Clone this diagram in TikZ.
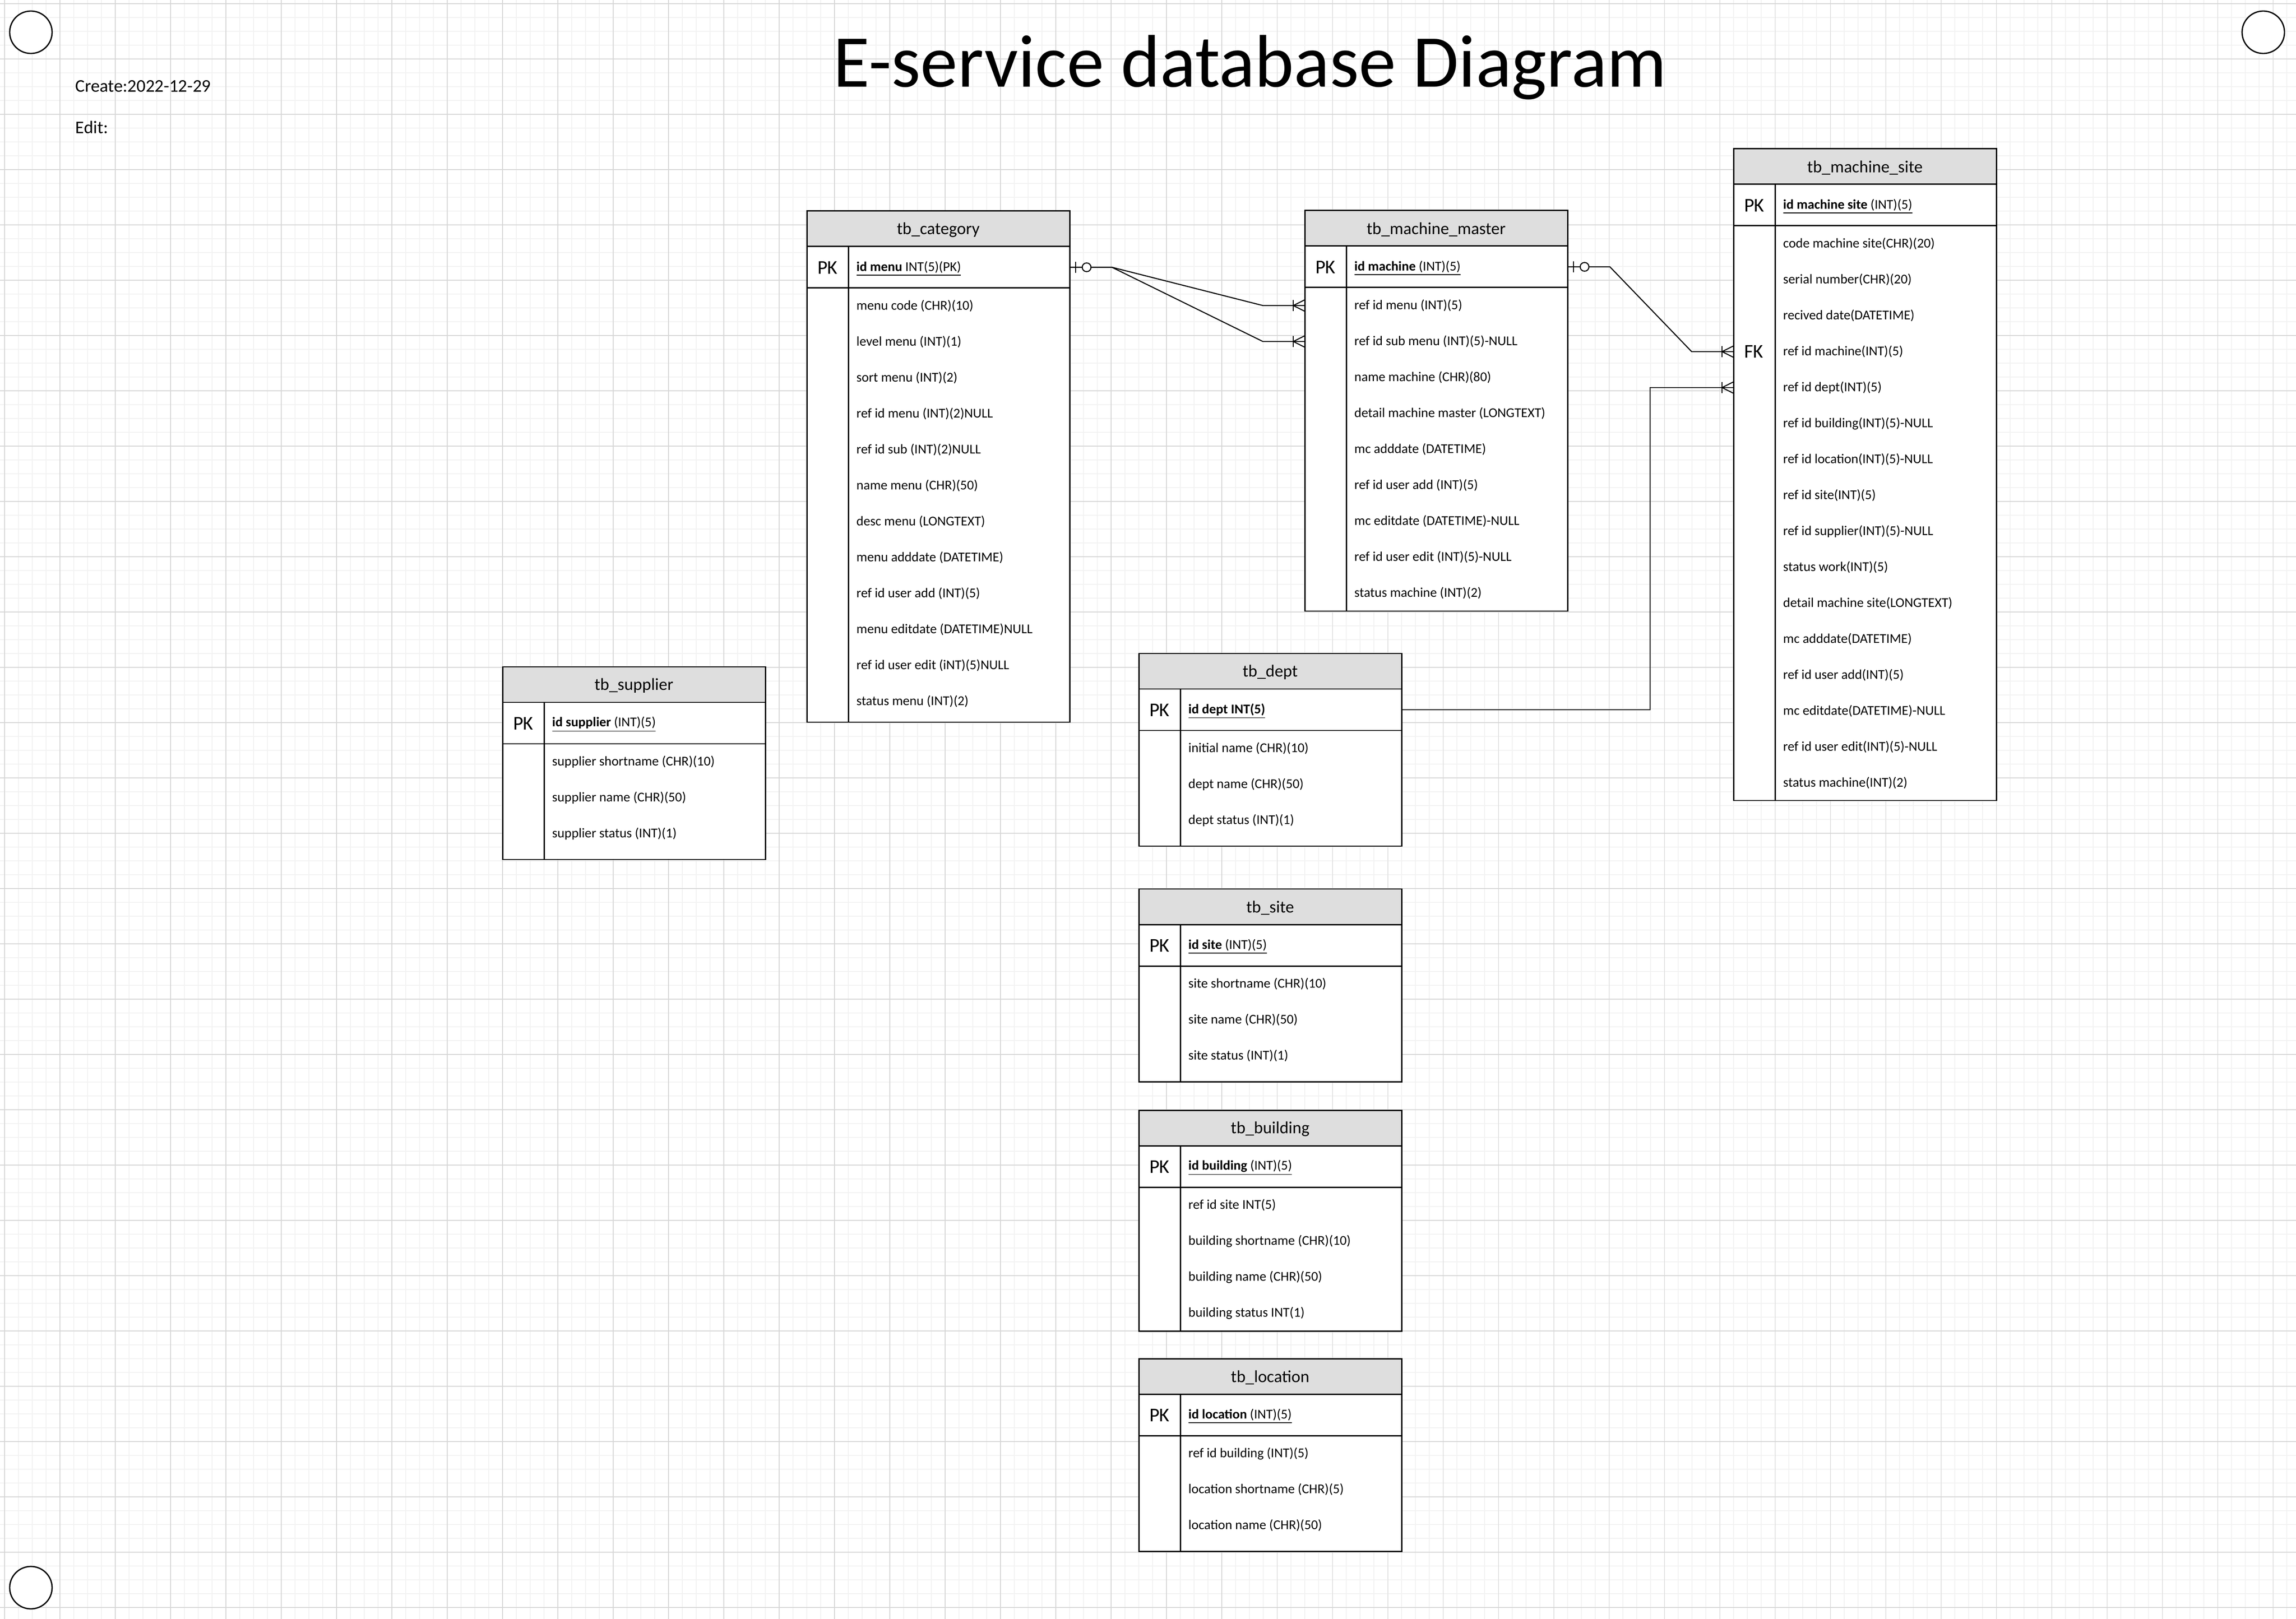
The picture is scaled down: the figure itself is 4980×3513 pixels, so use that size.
\documentclass[tikz,border=0pt]{standalone}
\usepackage{fontspec}
\setmainfont{Carlito}
\usetikzlibrary{calc}

\definecolor{gridminor}{HTML}{F2F2F2}
\definecolor{gridmajor}{HTML}{D6D6D6}
\definecolor{headgray}{HTML}{DEDEDE}

\tikzset{
  tbline/.style={line width=0.85pt},
  conn/.style={line width=0.65pt},
  ring/.style={line width=0.8pt,fill=white},
  rowbox/.style={minimum width=5.7cm,minimum height=0.78cm,inner sep=0pt},
  fieldtext/.style={anchor=west,inner sep=0pt,font=\fontsize{8.3}{10}\selectfont},
  keytext/.style={inner sep=0pt,font=\fontsize{12}{14}\selectfont},
  headtext/.style={inner sep=0pt,font=\fontsize{10.5}{12}\selectfont},
  pics/zeroone/.style={code={
    \draw[conn] (12,-12) -- (12,12);
    \draw[conn,fill=white] (36,0) circle (9.5);
  }},
  pics/onemany/.style={code={
    \draw[conn] (-24,-12) -- (-24,12);
    \draw[conn] (0,-12) -- (-24,0) -- (0,12);
  }},
}

% #1 name, #2 left, #3 top, #4 title, #5 key field, #6 body height, #7 fields
\newcommand\ertable[7]{%
  \fill[white] (#2,#3) rectangle ++(570,167+#6);
  \fill[headgray] (#2,#3) rectangle ++(570,77);
  \draw[tbline] (#2,#3+77) -- ++(570,0) (#2,#3+167) -- ++(570,0);
  \draw[tbline] (#2+90,#3+77) -- ++(0,90+#6);
  \draw[tbline] (#2,#3) rectangle ++(570,167+#6);
  \node[headtext] (#1-head) at (#2+285,#3+41) {#4};
  \node[rowbox] (#1-pk) at (#2+285,#3+122) {};
  \node[keytext] at (#2+45,#3+123) {PK};
  \node[fieldtext] at (#2+107,#3+125) {\underline{#5}};
  \foreach \fld [count=\i] in {#7} {
    \node[rowbox] (#1-\i) at (#2+285,#3+128+78*\i) {};
    \node[fieldtext] at (#2+107,#3+128+78*\i) {\fld};
  }%
}

\begin{document}
\begin{tikzpicture}[x=0.01cm,y=-0.01cm]
\fill[white] (0,0) rectangle (4980,3513);
\useasboundingbox (0,0) rectangle (4980,3513);

% grid
\foreach \gx in {10,40,...,4970} \draw[gridminor,line width=0.5pt] (\gx,0) -- (\gx,3513);
\foreach \gy in {8,38,...,3500} \draw[gridminor,line width=0.5pt] (0,\gy) -- (4980,\gy);
\foreach \gx in {10,130,...,4970} \draw[gridmajor,line width=0.3pt] (\gx,0) -- (\gx,3513);
\foreach \gy in {8,128,...,3500} \draw[gridmajor,line width=0.3pt] (0,\gy) -- (4980,\gy);

\draw[ring] (67,70) circle (46);
\draw[ring] (4909,70) circle (46);
\draw[ring] (67,3445) circle (46);

\node[anchor=base,inner sep=0pt,font=\fontsize{46}{50}\selectfont] (title) at (2711,189) {E-service database Diagram};
\node[anchor=base west,inner sep=0pt,font=\fontsize{11}{13}\selectfont] (create) at (163,200) {Create:2022-12-29};
\node[anchor=base west,inner sep=0pt,font=\fontsize{11}{13}\selectfont] (edit) at (163,290) {Edit:};

\ertable{cat}{1750}{458}{tb\_category}{\textbf{id menu} INT(5)(PK)}{942}{menu code (CHR)(10),level menu (INT)(1),sort menu (INT)(2),ref id menu (INT)(2)NULL,ref id sub (INT)(2)NULL,name menu (CHR)(50),desc menu (LONGTEXT),menu adddate (DATETIME),ref id user add (INT)(5),menu editdate (DATETIME)NULL,ref id user edit (iNT)(5)NULL,status menu (INT)(2)}

\ertable{mm}{2830}{457}{tb\_machine\_master}{\textbf{id machine} (INT)(5)}{702}{ref id menu (INT)(5),ref id sub menu (INT)(5)-NULL,name machine (CHR)(80),detail machine master (LONGTEXT),mc adddate (DATETIME),ref id user add (INT)(5),mc editdate (DATETIME)-NULL,ref id user edit (INT)(5)-NULL,status machine (INT)(2)}

\ertable{ms}{3760}{323}{tb\_machine\_site}{\textbf{id machine site} (INT)(5)}{1247}{code machine site(CHR)(20),serial number(CHR)(20),recived date(DATETIME),ref id machine(INT)(5),ref id dept(INT)(5),ref id building(INT)(5)-NULL,ref id location(INT)(5)-NULL,ref id site(INT)(5),ref id supplier(INT)(5)-NULL,status work(INT)(5),detail machine site(LONGTEXT),mc adddate(DATETIME),ref id user add(INT)(5),mc editdate(DATETIME)-NULL,ref id user edit(INT)(5)-NULL,status machine(INT)(2)}
\node[keytext] (ms-fk) at ($(ms-4.west)+(45,0)$) {FK};

\ertable{sup}{1090}{1447}{tb\_supplier}{\textbf{id supplier} (INT)(5)}{251}{supplier shortname (CHR)(10),supplier name (CHR)(50),supplier status (INT)(1)}

\ertable{dept}{2470}{1418}{tb\_dept}{\textbf{id dept INT(5)}}{251}{initial name (CHR)(10),dept name (CHR)(50),dept status (INT)(1)}

\ertable{site}{2470}{1929}{tb\_site}{\textbf{id site} (INT)(5)}{251}{site shortname (CHR)(10),site name (CHR)(50),site status (INT)(1)}

\ertable{bld}{2470}{2409}{tb\_building}{\textbf{id building} (INT)(5)}{312}{ref id site INT(5),building shortname (CHR)(10),building name (CHR)(50),building status INT(1)}

\ertable{loc}{2470}{2948}{tb\_location}{\textbf{id location} (INT)(5)}{251}{ref id building (INT)(5),location shortname (CHR)(5),location name (CHR)(50)}

% relations
\draw[conn] (cat-pk.east) -- ++(91,0) -- ($(mm-1.west)+(-90,0)$) -- (mm-1.west);
\draw[conn] (cat-pk.east) -- ++(91,0) -- ($(mm-2.west)+(-90,0)$) -- (mm-2.west);
\draw[conn] (mm-pk.east) -- ++(91,0) -- ($(ms-4.west)+(-90,0)$) -- (ms-4.west);
\draw[conn] (dept-pk.east) -| ($(ms-5.west)+(-180,0)$) -- (ms-5.west);

\pic at (cat-pk.east) {zeroone};
\pic at (mm-pk.east) {zeroone};
\pic at (mm-1.west) {onemany};
\pic at (mm-2.west) {onemany};
\pic at (ms-4.west) {onemany};
\pic at (ms-5.west) {onemany};

\end{tikzpicture}
\end{document}
